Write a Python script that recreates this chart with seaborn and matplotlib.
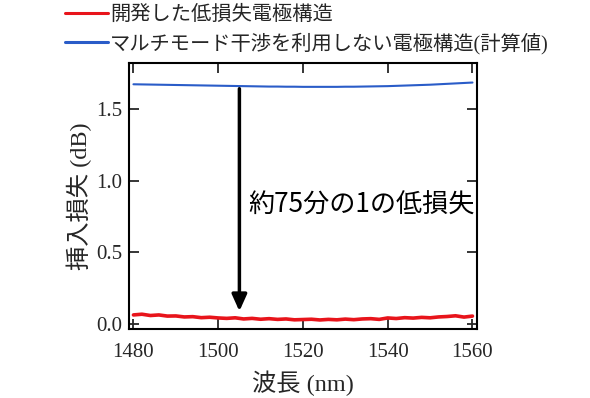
import numpy as np
import pandas as pd
import matplotlib
matplotlib.use("Agg")
import matplotlib.pyplot as plt
import seaborn as sns

sns.set_style("ticks")
plt.rcParams["font.family"] = ["Liberation Serif", "Noto Sans CJK JP"]
plt.rcParams["axes.unicode_minus"] = False
plt.rcParams["xtick.direction"] = "in"
plt.rcParams["ytick.direction"] = "in"

JP = ["Noto Sans CJK JP", "DejaVu Sans"]
MIX = ["Liberation Serif", "Noto Sans CJK JP"]

# 波長 (nm)
wavelength = [1480, 1482, 1484, 1486, 1488, 1490, 1492, 1494, 1496, 1498,
              1500, 1502, 1504, 1506, 1508, 1510, 1512, 1514, 1516, 1518,
              1520, 1522, 1524, 1526, 1528, 1530, 1532, 1534, 1536, 1538,
              1540, 1542, 1544, 1546, 1548, 1550, 1552, 1554, 1556, 1558,
              1560]

# 開発した低損失電極構造 (測定)
loss_new = [0.064, 0.069, 0.060, 0.064, 0.056, 0.057, 0.050, 0.052, 0.045, 0.048,
            0.043, 0.040, 0.044, 0.036, 0.040, 0.034, 0.038, 0.033, 0.036, 0.030,
            0.032, 0.034, 0.029, 0.033, 0.030, 0.035, 0.031, 0.036, 0.038, 0.033,
            0.043, 0.039, 0.045, 0.042, 0.047, 0.044, 0.050, 0.053, 0.058, 0.049,
            0.056]

# マルチモード干渉を利用しない電極構造 (計算値)
loss_conv = [1.671, 1.670, 1.669, 1.668, 1.667, 1.666, 1.665, 1.664, 1.663, 1.662,
             1.661, 1.660, 1.659, 1.658, 1.657, 1.656, 1.655, 1.655, 1.654, 1.654,
             1.653, 1.653, 1.653, 1.653, 1.653, 1.654, 1.654, 1.655, 1.656, 1.657,
             1.658, 1.660, 1.662, 1.664, 1.666, 1.668, 1.671, 1.674, 1.677, 1.680,
             1.683]

labels = ["開発した低損失電極構造", "マルチモード干渉を利用しない電極構造(計算値)"]
colors = ["#e8141b", "#2a5cc8"]
widths = [2.6, 1.5]

df = pd.DataFrame({
    "wavelength": wavelength * 2,
    "loss": loss_new + loss_conv,
    "kind": [labels[0]] * len(wavelength) + [labels[1]] * len(wavelength),
})

fig = plt.figure(figsize=(5.9, 3.98), dpi=100)
ax = fig.add_axes([0.219, 0.173, 0.589, 0.669])

for lab, c, w in zip(labels, colors, widths):
    sns.lineplot(data=df[df["kind"] == lab], x="wavelength", y="loss",
                 color=c, lw=w, ax=ax, label=lab, legend=False)

ax.set_xlim(1479, 1561)
ax.set_ylim(-0.035, 1.82)
ax.set_xticks([1480, 1500, 1520, 1540, 1560])
ax.set_yticks([0.0, 0.5, 1.0, 1.5])
ax.set_yticklabels(["0.0", "0.5", "1.0", "1.5"])
ax.tick_params(axis="both", which="both", top=True, right=True, length=7,
               width=1.3, labelsize=15)
ax.tick_params(axis="x", pad=10)
ax.tick_params(axis="y", pad=5)
for s in ax.spines.values():
    s.set_linewidth(1.5)
    s.set_color("black")

ax.set_xlabel("波長 (nm)", fontsize=17.5, family=MIX, labelpad=6)
ax.set_ylabel("挿入損失 (dB)", fontsize=17.5, family=MIX, labelpad=3)

ax.annotate("", xy=(1505, 0.09), xytext=(1505, 1.64),
            arrowprops=dict(arrowstyle="-|>,head_length=1.0,head_width=0.45",
                            color="black", lw=2.5, shrinkA=0, shrinkB=0))
ax.text(1507, 0.83, "約75分の1の低損失", fontsize=18.8, family=JP,
        va="center", ha="left", color="black")

handles, labs = ax.get_legend_handles_labels()
leg = fig.legend(handles, labs, loc="upper left", bbox_to_anchor=(0.09, 1.015),
                 frameon=False, fontsize=14.6, handlelength=2.1,
                 handletextpad=0.1, labelspacing=0.35, borderaxespad=0.2)
for t in leg.get_texts():
    t.set_family(MIX)
for h in leg.legend_handles:
    h.set_linewidth(2.2)

fig.savefig("out.png", dpi=100)
